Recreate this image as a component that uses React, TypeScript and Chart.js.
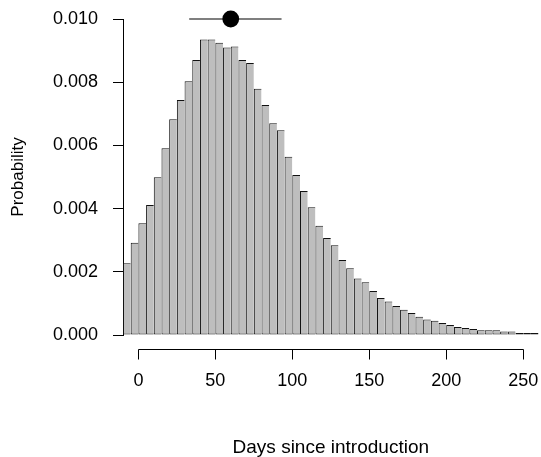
import React, { useEffect, useRef } from "react";
import { Chart, registerables } from "chart.js";

Chart.register(...registerables);

// Histogram bins (left edges, days) and probabilities
const binStarts = [
  -10, -5, 0, 5, 10, 15, 20, 25, 30, 35,
  40, 45, 50, 55, 60, 65, 70, 75, 80, 85,
  90, 95, 100, 105, 110, 115, 120, 125, 130, 135,
  140, 145, 150, 155, 160, 165, 170, 175, 180, 185,
  190, 195, 200, 205, 210, 215, 220, 225, 230, 235,
  240, 245, 250, 255,
];
const binWidth = 5;
const probabilities = [
  0.00227, 0.00292, 0.00354, 0.00411, 0.00499, 0.00591, 0.00683, 0.00744, 0.00803, 0.0087,
  0.00935, 0.00935, 0.00925, 0.0091, 0.00913, 0.0087, 0.00861, 0.00779, 0.00728, 0.0067,
  0.00648, 0.00564, 0.00506, 0.00456, 0.00404, 0.00346, 0.00307, 0.00284, 0.00237, 0.00211,
  0.00179, 0.00167, 0.00139, 0.00117, 0.00106, 0.00092, 0.0008, 0.0007, 0.00058, 0.00049,
  0.00045, 0.00038, 0.00032, 0.00025, 0.00022, 0.00019, 0.00015, 0.00015, 0.00015, 0.00011,
  0.00011, 0.00006, 0.00006, 0.00006,
];

// Summary point and interval drawn at the top
const pointEstimate = 60;
const intervalLow = 33;
const intervalHigh = 93;
const summaryLevel = 0.01;

const xTicks = [0, 50, 100, 150, 200, 250];
const yTicks = [0, 0.002, 0.004, 0.006, 0.008, 0.01];

const FONT = "'Liberation Sans', Arial, sans-serif";

function clearPadding(scale: any) {
  scale.paddingLeft = 0;
  scale.paddingRight = 0;
  scale.paddingTop = 0;
  scale.paddingBottom = 0;
}

export default function App() {
  const canvasRef = useRef<HTMLCanvasElement | null>(null);

  useEffect(() => {
    if (!canvasRef.current) return;
    const n = probabilities.length;

    const xAxisPlugin = {
      id: "rStyleXAxis",
      afterDraw(chart: any) {
        const ctx = chart.ctx;
        const xs = chart.scales.x;
        const y0 = Math.round(chart.chartArea.bottom + 14) + 0.5;
        const x0 = Math.round(xs.getPixelForValue(xTicks[0])) + 0.5;
        const x1 = Math.round(xs.getPixelForValue(xTicks[xTicks.length - 1])) + 0.5;
        ctx.save();
        ctx.strokeStyle = "#000";
        ctx.lineWidth = 1;
        ctx.beginPath();
        ctx.moveTo(x0, y0);
        ctx.lineTo(x1, y0);
        for (const t of xTicks) {
          const px = Math.round(xs.getPixelForValue(t)) + 0.5;
          ctx.moveTo(px, y0);
          ctx.lineTo(px, y0 + 10);
        }
        ctx.stroke();
        ctx.restore();
      },
    };

    const chart = new Chart(canvasRef.current, {
      type: "bar",
      data: {
        datasets: [
          {
            type: "bubble",
            data: [{ x: pointEstimate, y: summaryLevel, r: 8.4 }],
            backgroundColor: "#000",
            borderColor: "#000",
            borderWidth: 0,
            clip: false,
          } as any,
          {
            type: "line",
            data: [
              { x: intervalLow, y: summaryLevel },
              { x: intervalHigh, y: summaryLevel },
            ],
            borderColor: "#555",
            borderWidth: 1.5,
            pointRadius: 0,
            clip: false,
          } as any,
          {
            type: "bar",
            data: binStarts.map((s, i) => ({ x: s + binWidth / 2, y: probabilities[i] })),
            backgroundColor: "#BEBEBE",
            borderColor: "#111",
            borderSkipped: false,
            inflateAmount: 0,
            borderWidth: (c: any) => ({
              left: 1,
              top: 1,
              bottom: 1,
              right: c.dataIndex === n - 1 ? 1 : 0,
            }),
            barPercentage: 1,
            categoryPercentage: 1,
          } as any,
        ],
      },
      options: {
        animation: false,
        responsive: false,
        maintainAspectRatio: false,
        layout: { padding: { top: 19, right: 2, left: 0, bottom: 0 } },
        plugins: { legend: { display: false }, tooltip: { enabled: false } },
        scales: {
          x: {
            type: "linear",
            min: -10,
            max: 260,
            offset: false,
            afterBuildTicks: (scale: any) => {
              scale.ticks = xTicks.map((v) => ({ value: v }));
            },
            afterFit: (scale: any) => {
              scale.height = 122;
              clearPadding(scale);
            },
            grid: { display: false, drawTicks: false, offset: false },
            border: { display: false },
            ticks: {
              padding: 37,
              maxRotation: 0,
              autoSkip: false,
              color: "#000",
              font: { family: FONT, size: 18, lineHeight: 1 },
              callback: (v: any) => String(v),
            },
            title: {
              display: true,
              text: "Days since introduction",
              color: "#000",
              font: { family: FONT, size: 19, lineHeight: 1 },
              padding: { top: 0, bottom: 0 },
            },
          },
          y: {
            type: "linear",
            min: 0,
            max: 0.01,
            afterBuildTicks: (scale: any) => {
              scale.ticks = yTicks.map((v) => ({ value: v }));
            },
            afterFit: (scale: any) => {
              scale.width = 123;
              clearPadding(scale);
            },
            grid: {
              drawOnChartArea: false,
              drawTicks: true,
              tickLength: 10,
              color: "#000",
            },
            border: { display: true, color: "#000", width: 1 },
            ticks: {
              padding: 15,
              color: "#000",
              font: { family: FONT, size: 18, lineHeight: 1 },
              callback: (v: any) => Number(v).toFixed(3),
            },
            title: {
              display: true,
              text: "Probability",
              color: "#000",
              font: { family: FONT, size: 17, lineHeight: 1 },
              padding: { top: 10, bottom: 0 },
            },
          },
        },
      },
      plugins: [xAxisPlugin],
    } as any);

    return () => {
      chart.destroy();
    };
  }, []);

  return (
    <div
      style={{
        position: "absolute",
        left: 0,
        top: 0,
        width: 541,
        height: 457,
        overflow: "hidden",
        background: "#fff",
      }}
    >
      <canvas ref={canvasRef} width={547} height={457} style={{ display: "block" }} />
    </div>
  );
}
